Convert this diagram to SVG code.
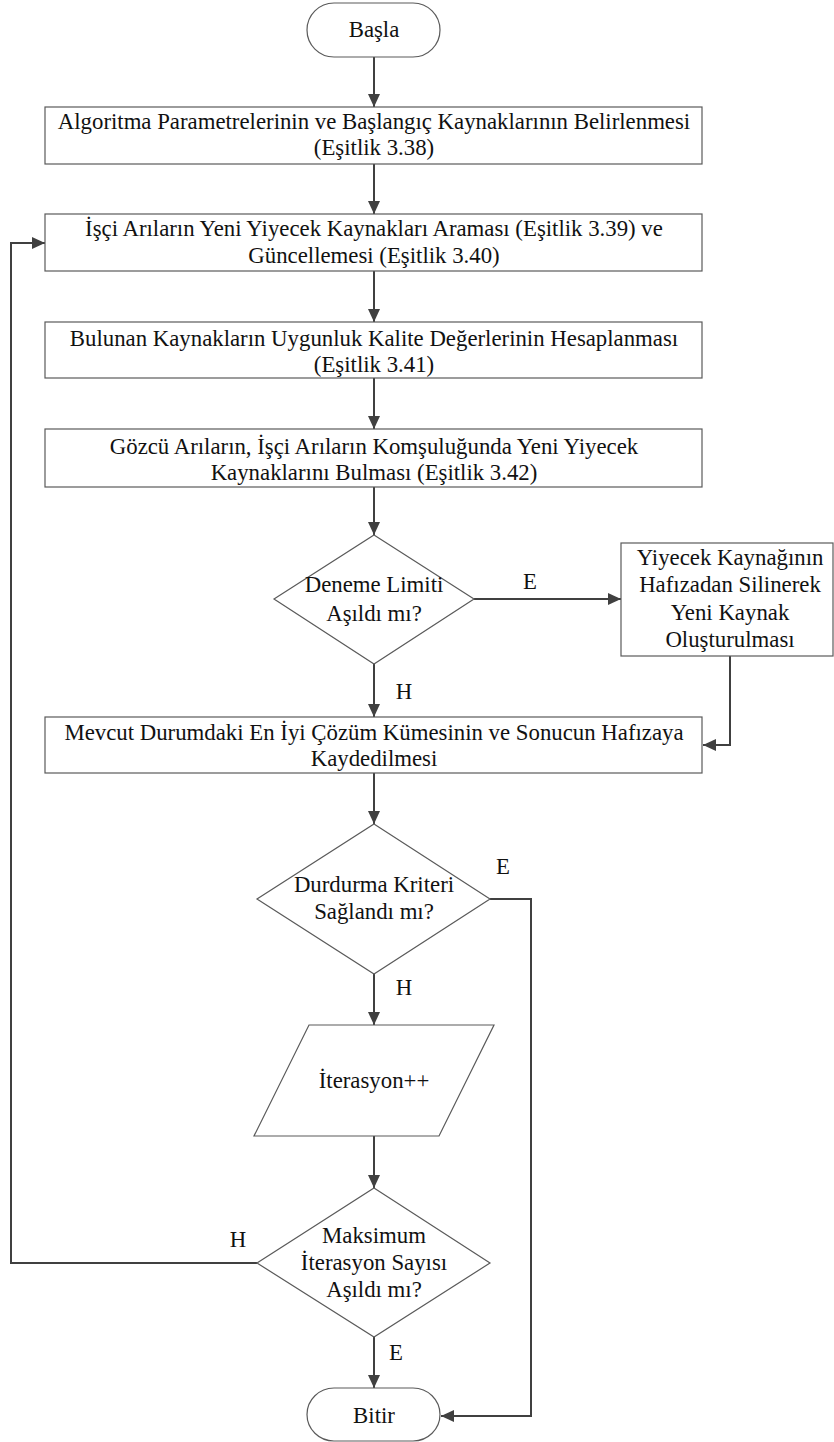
<svg xmlns="http://www.w3.org/2000/svg" width="834" height="1442" viewBox="0 0 834 1442" font-family="Liberation Serif, Times New Roman, DejaVu Serif, serif">
<defs>
<marker id="arr" markerUnits="userSpaceOnUse" markerWidth="14" markerHeight="14" viewBox="0 0 14 14" refX="13" refY="7" orient="auto">
<path d="M0,1 L13,7 L0,13 Z" fill="#404040"/>
</marker>
</defs>
<style>
.shape{fill:#ffffff;stroke:#5a5a5a;stroke-width:1.2}
.conn{fill:none;stroke:#404040;stroke-width:2}
.t{font-family:'Liberation Serif','Times New Roman',serif;font-size:22.8px;fill:#111111;text-anchor:middle}
</style>
<rect width="834" height="1442" fill="#ffffff"/>
<g id="connectors">
<line class="conn" x1="374" y1="57" x2="374" y2="107" marker-end="url(#arr)"/>
<line class="conn" x1="374" y1="164" x2="374" y2="214" marker-end="url(#arr)"/>
<line class="conn" x1="374" y1="271" x2="374" y2="322" marker-end="url(#arr)"/>
<line class="conn" x1="374" y1="378" x2="374" y2="429" marker-end="url(#arr)"/>
<line class="conn" x1="374" y1="487" x2="374" y2="535" marker-end="url(#arr)"/>
<line class="conn" x1="474" y1="599" x2="621" y2="599" marker-end="url(#arr)"/>
<polyline class="conn" points="730,656 730,745 703,745" marker-end="url(#arr)"/>
<line class="conn" x1="374" y1="664" x2="374" y2="717" marker-end="url(#arr)"/>
<line class="conn" x1="374" y1="773" x2="374" y2="824" marker-end="url(#arr)"/>
<polyline class="conn" points="490,899 531,899 531,1416 441,1416" marker-end="url(#arr)"/>
<line class="conn" x1="374" y1="974" x2="374" y2="1025" marker-end="url(#arr)"/>
<line class="conn" x1="374" y1="1136" x2="374" y2="1188" marker-end="url(#arr)"/>
<polyline class="conn" points="257,1263 11,1263 11,243 45,243" marker-end="url(#arr)"/>
<line class="conn" x1="374" y1="1337" x2="374" y2="1388" marker-end="url(#arr)"/>
<text class="t" x="530" y="589">E</text>
<text class="t" x="404" y="699">H</text>
<text class="t" x="503" y="874">E</text>
<text class="t" x="404" y="995">H</text>
<text class="t" x="238" y="1247">H</text>
<text class="t" x="396" y="1360">E</text>
</g>
<g id="start">
<rect class="shape" x="307" y="3" width="133" height="54" rx="27" ry="27"/>
<text class="t" x="374" y="37">Başla</text>
</g>
<g id="box1">
<rect class="shape" x="45" y="107" width="657" height="57"/>
<text class="t" x="374" y="129">Algoritma Parametrelerinin ve Başlangıç Kaynaklarının Belirlenmesi</text>
<text class="t" x="374" y="155">(Eşitlik 3.38)</text>
</g>
<g id="box2">
<rect class="shape" x="45" y="214" width="657" height="57"/>
<text class="t" x="374" y="236">İşçi Arıların Yeni Yiyecek Kaynakları Araması (Eşitlik 3.39) ve</text>
<text class="t" x="374" y="263">Güncellemesi (Eşitlik 3.40)</text>
</g>
<g id="box3">
<rect class="shape" x="45" y="322" width="657" height="56"/>
<text class="t" x="374" y="346">Bulunan Kaynakların Uygunluk Kalite Değerlerinin Hesaplanması</text>
<text class="t" x="374" y="372">(Eşitlik 3.41)</text>
</g>
<g id="box4">
<rect class="shape" x="45" y="429" width="657" height="58"/>
<text class="t" x="374" y="454">Gözcü Arıların, İşçi Arıların Komşuluğunda Yeni Yiyecek</text>
<text class="t" x="374" y="480">Kaynaklarını Bulması (Eşitlik 3.42)</text>
</g>
<g id="decision1">
<polygon class="shape" points="374,535 474,599 374,664 274,599"/>
<text class="t" x="374" y="592">Deneme Limiti</text>
<text class="t" x="374" y="621">Aşıldı mı?</text>
</g>
<g id="box5">
<rect class="shape" x="621" y="543" width="212" height="113"/>
<text class="t" x="730" y="565">Yiyecek Kaynağının</text>
<text class="t" x="730" y="592">Hafızadan Silinerek</text>
<text class="t" x="730" y="620">Yeni Kaynak</text>
<text class="t" x="730" y="647">Oluşturulması</text>
</g>
<g id="box6">
<rect class="shape" x="45" y="717" width="657" height="56"/>
<text class="t" x="374" y="740">Mevcut Durumdaki En İyi Çözüm Kümesinin ve Sonucun Hafızaya</text>
<text class="t" x="374" y="766">Kaydedilmesi</text>
</g>
<g id="decision2">
<polygon class="shape" points="374,824 490,899 374,974 257,899"/>
<text class="t" x="374" y="892">Durdurma Kriteri</text>
<text class="t" x="374" y="919">Sağlandı mı?</text>
</g>
<g id="iteration">
<polygon class="shape" points="309,1025 494,1025 439,1136 254,1136"/>
<text class="t" x="374" y="1088">İterasyon++</text>
</g>
<g id="decision3">
<polygon class="shape" points="374,1188 490,1263 374,1337 257,1263"/>
<text class="t" x="374" y="1243">Maksimum</text>
<text class="t" x="374" y="1270">İterasyon Sayısı</text>
<text class="t" x="374" y="1297">Aşıldı mı?</text>
</g>
<g id="end">
<rect class="shape" x="307" y="1388" width="133" height="53" rx="27" ry="27"/>
<text class="t" x="374" y="1423">Bitir</text>
</g>
</svg>
